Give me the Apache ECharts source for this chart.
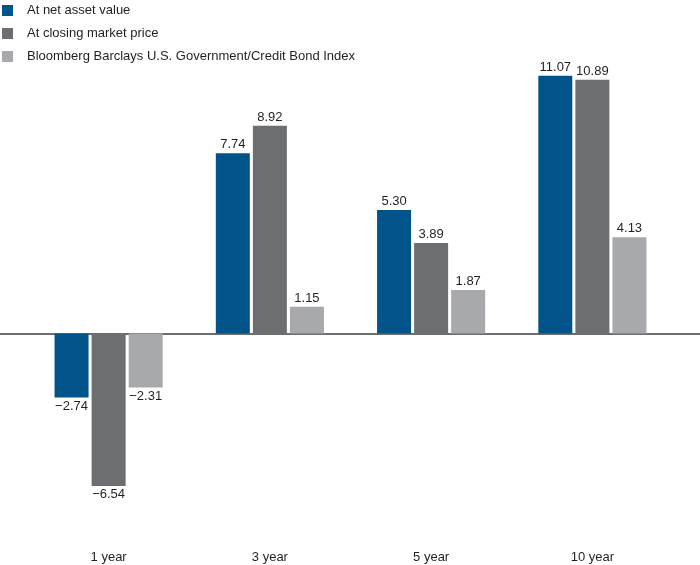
<!DOCTYPE html>
<html><head><meta charset="utf-8">
<script src="https://cdn.jsdelivr.net/npm/echarts@6/dist/echarts.min.js"></script>
<style>html,body{margin:0;padding:0;background:#fff}#c{width:700px;height:565px}</style>
</head><body><div id="c"></div>
<script>
const categories = ['1 year', '3 year', '5 year', '10 year'];
const seriesNames = ['At net asset value', 'At closing market price', 'Bloomberg Barclays U.S. Government/Credit Bond Index'];
const navValues = [-2.74, 7.74, 5.30, 11.07];
const marketValues = [-6.54, 8.92, 3.89, 10.89];
const indexValues = [-2.31, 1.15, 1.87, 4.13];
const colors = ['#00548a', '#6d6e71', '#a7a9ac'];
const FONT = "'Liberation Sans Narrow', 'Liberation Sans', sans-serif";

function mk(vals) {
  return vals.map(v => v < 0 ? { value: v, label: { position: 'bottom' } } : v);
}
function fmt(p) {
  const s = Math.abs(p.value).toFixed(2);
  return p.value < 0 ? '\u2212' + s : s;
}
const allSeries = [navValues, marketValues, indexValues].map((vals, i) => ({
  name: seriesNames[i],
  type: 'bar',
  xAxisIndex: 0, yAxisIndex: 0,
  data: mk(vals),
  barWidth: 34,
  barGap: '9%',
  itemStyle: { color: colors[i] },
  label: { show: true, position: 'top', distance: 2, formatter: fmt, color: '#231f20', fontSize: 13, fontFamily: FONT }
}));
// hidden series on full-width grid to carry the zero baseline
allSeries.push({ type: 'bar', xAxisIndex: 1, yAxisIndex: 1, data: [0], silent: true, itemStyle: { opacity: 0 } });

const chart = echarts.init(document.getElementById('c'), null, { renderer: 'canvas' });
chart.setOption({
  animation: false,
  color: colors,
  legend: {
    orient: 'vertical', left: 2, top: 4, padding: 0,
    icon: 'rect', itemWidth: 11, itemHeight: 11, itemGap: 10,
    data: seriesNames,
    textStyle: { fontSize: 13, fontFamily: FONT, color: '#231f20', padding: [0, 0, 0, 9], lineHeight: 13 }
  },
  grid: [
    { left: 28, right: 27, top: 54, bottom: 45 },
    { left: 0, right: 0, top: 54, bottom: 45 }
  ],
  xAxis: [
    { type: 'category', gridIndex: 0, data: categories, position: 'bottom',
      axisLine: { show: false, onZero: false }, axisTick: { show: false },
      axisLabel: { margin: 31, fontSize: 13, fontFamily: FONT, color: '#231f20' } },
    { type: 'category', gridIndex: 1, data: [''],
      axisLine: { show: true, onZero: true, lineStyle: { color: '#6d6e71', width: 2 } },
      axisTick: { show: false }, axisLabel: { show: false } }
  ],
  yAxis: [
    { type: 'value', gridIndex: 0, min: -8, max: 12, interval: 2, show: false, splitLine: { show: false } },
    { type: 'value', gridIndex: 1, min: -8, max: 12, interval: 2, show: false, splitLine: { show: false } }
  ],
  series: allSeries
});
</script></body></html>
